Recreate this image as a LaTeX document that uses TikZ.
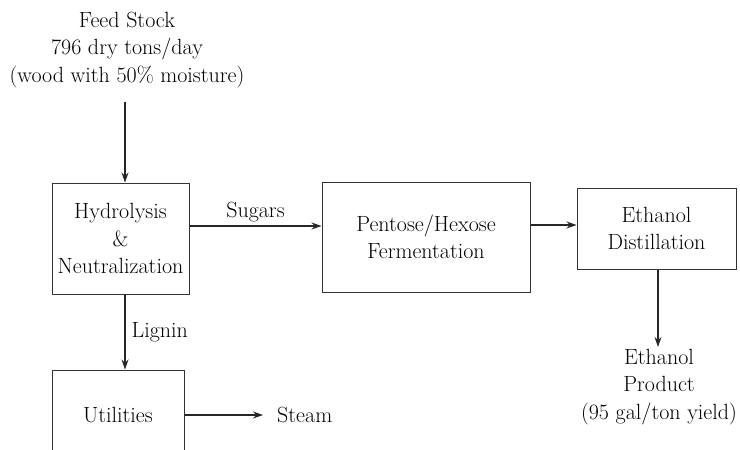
\documentclass[tikz,border=0pt]{standalone}
\usepackage{tikz}
\usetikzlibrary{
  arrows.meta,
  positioning
}

\begin{document}
\begin{tikzpicture}[x=1pt,y=-1pt,
  every node/.style={font=\fontsize{22}{27.5}\selectfont,text=black},
  every text node part/.style={align=center},
  unit/.style={rectangle,draw=black!80,line width=1pt,fill=white,inner sep=0pt},
  flow/.style={line width=1.2pt,draw=black!85,-{Stealth[length=10pt,width=7pt]}},
  plain/.style={rectangle,inner sep=2pt}]
  \clip (0,0) rectangle (740,450);

  \node[plain] (0) at (127,50) {Feed Stock\\796 dry tons/day\\(wood with 50\% moisture)};
  \node[unit,minimum width=137pt,minimum height=111pt] (1) at (120.5,238.5) {Hydrolysis\\\&\\Neutralization};
  \node[unit,minimum width=208pt,minimum height=110pt] (2) at (426,237) {Pentose/Hexose\\Fermentation};
  \node[unit,minimum width=159pt,minimum height=81pt] (3) at (656.5,228.5) {Ethanol\\Distillation};
  \node[plain] (4) at (659,387) {Ethanol\\Product\\(95 gal/ton yield)};
  \node[unit,minimum width=132pt,minimum height=90pt] (5) at (118,415) {Utilities};
  \node[plain,anchor=west] (6) at (275,415) {Steam};

  \draw[flow,shorten <=12pt] ([xshift=-2pt]0.south) -- ([xshift=-2pt]0.south |- 1.north);
  \draw[flow] ([yshift=12.5pt]1.east) -- ([yshift=12.5pt]1.east -| 2.west)
    node[plain,midway,above=1pt] (7) {Sugars};
  \draw[flow] ([yshift=12pt]2.east) -- ([yshift=12pt]2.east -| 3.west);
  \draw[flow] ([xshift=1.5pt]3.south) -- ([xshift=1.5pt]3.south |- 4.north);
  \draw[flow] ([xshift=4.5pt]1.south) -- ([xshift=4.5pt]1.south |- 5.north)
    node[plain,midway,right=4pt] (8) {Lignin};
  \draw[flow,shorten >=12pt] (5.east) -- (6.west);

\end{tikzpicture}
\end{document}
